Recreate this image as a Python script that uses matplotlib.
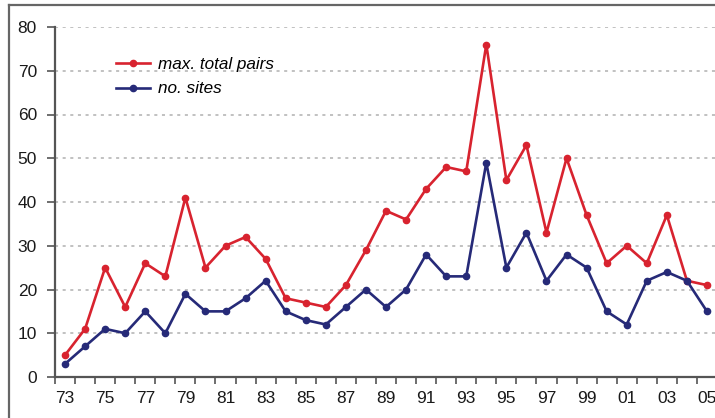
import matplotlib.pyplot as plt
import numpy as np
from matplotlib.lines import Line2D

# data
years = ['73', '74', '75', '76', '77', '78', '79', '80', '81', '82', '83',
         '84', '85', '86', '87', '88', '89', '90', '91', '92', '93', '94',
         '95', '96', '97', '98', '99', '00', '01', '02', '03', '04', '05']
max_pairs = [5, 11, 25, 16, 26, 23, 41, 25, 30, 32, 27,
             18, 17, 16, 21, 29, 38, 36, 43, 48, 47, 76,
             45, 53, 33, 50, 37, 26, 30, 26, 37, 22, 21]
no_sites = [3, 7, 11, 10, 15, 10, 19, 15, 15, 18, 22,
            15, 13, 12, 16, 20, 16, 20, 28, 23, 23, 49,
            25, 33, 22, 28, 25, 15, 12, 22, 24, 22, 15]
y_ticks = [0, 10, 20, 30, 40, 50, 60, 70, 80]

red = '#d8232f'
navy = '#262a78'
axis_col = '#555555'

plt.rcParams['font.family'] = ['Liberation Sans Narrow', 'Liberation Sans', 'DejaVu Sans']

W, H = 715, 418
fig = plt.figure(figsize=(W / 100, H / 100), dpi=100)
# axes in pixel terms: left spine x=55, bottom y=377, top y=27, right ~717
left, right, top, bottom = 55, 717, 27, 377
ax = fig.add_axes([left / W, 1 - bottom / H, (right - left) / W, (bottom - top) / H])

x = np.arange(len(years))
ax.plot(x, max_pairs, color=red, lw=1.9, marker='o', ms=4.5, label='max. total pairs')
ax.plot(x, no_sites, color=navy, lw=1.9, marker='o', ms=4.5, label='no. sites')

ax.set_xlim(-0.5, len(years) - 0.5)
ax.set_ylim(0, 80)

ax.set_yticks(y_ticks)
ax.set_yticklabels([str(v) for v in y_ticks], fontsize=12.5)
ax.set_xticks(x[::2])
ax.set_xticklabels(years[::2], fontsize=12.5)
ax.set_xticks(np.arange(len(years) + 1) - 0.5, minor=True)
ax.tick_params(axis='x', which='major', length=0, pad=10, colors='#1a1a1a')
ax.tick_params(axis='x', which='minor', length=5, width=1.2, color=axis_col)
ax.tick_params(axis='y', which='major', length=6, width=1.2, color=axis_col, pad=7,
               labelcolor='#1a1a1a')

ax.grid(True, axis='y', linestyle=(0, (2, 3)), color='#b0b0b0', lw=1.1)
ax.set_axisbelow(True)

for s in ['top', 'right']:
    ax.spines[s].set_visible(False)
for s in ['left', 'bottom']:
    ax.spines[s].set_color(axis_col)
    ax.spines[s].set_linewidth(1.6)

leg = ax.legend(loc='upper left', bbox_to_anchor=(0.0925, 0.914), frameon=False,
                fontsize=12.3, handlelength=2.0, handletextpad=0.45, labelspacing=0.55,
                borderpad=0, borderaxespad=0)
for t in leg.get_texts():
    t.set_fontstyle('italic')

# outer frame of the clipped picture (top and left edges)
fig.add_artist(Line2D([9 / W, 1], [1 - 5 / H, 1 - 5 / H], color='#666666', lw=1.6,
                      transform=fig.transFigure))
fig.add_artist(Line2D([9 / W, 9 / W], [0, 1 - 5 / H], color='#666666', lw=1.6,
                      transform=fig.transFigure))

fig.savefig('out.png', dpi=100)
